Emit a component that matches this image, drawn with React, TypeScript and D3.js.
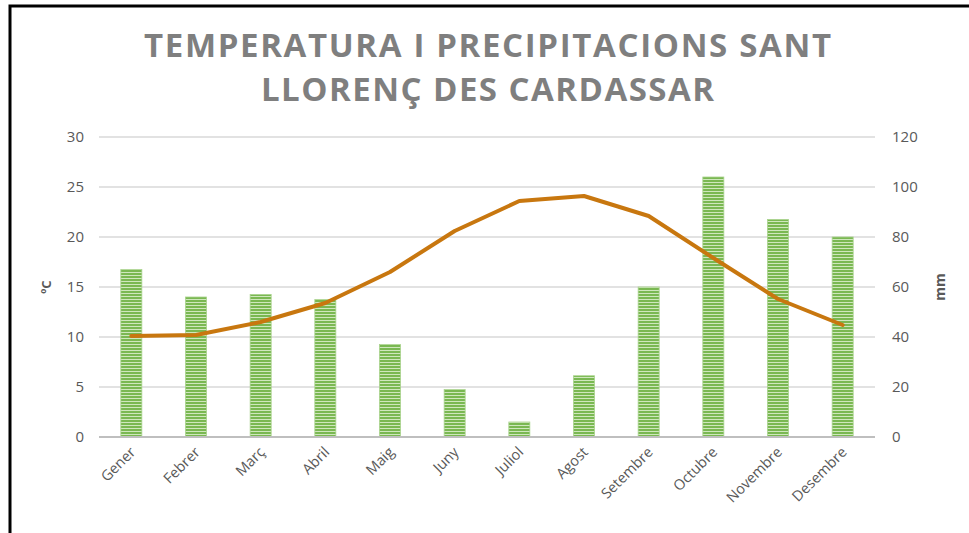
import React from "react";
import * as d3 from "d3";

const months = ["Gener","Febrer","Març","Abril","Maig","Juny","Juliol","Agost","Setembre","Octubre","Novembre","Desembre"];
const precipitation = [67, 56, 57, 55, 37, 19, 6, 24.5, 60, 104, 87, 80];
const temperature = [10.1, 10.2, 11.5, 13.4, 16.5, 20.6, 23.6, 24.1, 22.1, 17.9, 13.8, 11.2];
const leftTicks = [0, 5, 10, 15, 20, 25, 30];
const rightTicks = [0, 20, 40, 60, 80, 100, 120];
const titleLines = ["TEMPERATURA I PRECIPITACIONS SANT", "LLORENÇ DES CARDASSAR"];

const W = 969, H = 533;
const plot = { left: 99, right: 875, top: 137, bottom: 437 };

export default function App() {
  const x = d3.scaleBand<string>().domain(months).range([plot.left, plot.right]).paddingInner(0.675).paddingOuter(0.3375);
  const yL = d3.scaleLinear().domain([0, 30]).range([plot.bottom, plot.top]);
  const yR = d3.scaleLinear().domain([0, 120]).range([plot.bottom, plot.top]);
  const cx = (m: string) => (x(m) as number) + x.bandwidth() / 2;
  const line = d3.line<number>().x((_, i) => cx(months[i])).y((d) => yL(d));
  const font = "'Open Sans', 'DejaVu Sans', sans-serif";
  const titleWidths = [687, 453];
  return (
    <div style={{ position: "absolute", left: 0, top: 0 }}>
      <svg width={W} height={H} style={{ display: "block", background: "#fff" }}>
        <defs>
          <pattern id="stripes" width="6" height="3" patternUnits="userSpaceOnUse">
            <rect width="6" height="3" fill="#cfe7bd" />
            <rect width="6" height="2" fill="#7ab852" />
          </pattern>
        </defs>
        <rect x={10} y={6} width={990} height={560} fill="none" stroke="#000" strokeWidth={3} />
        {titleLines.map((t, i) => (
          <text key={t} x={W / 2 + 3} y={57 + i * 44} textAnchor="middle" fontFamily={font} fontWeight={700}
            fontSize={33} fill="#7f7f7f" textLength={titleWidths[i]} lengthAdjust="spacing">{t}</text>
        ))}
        {leftTicks.slice(1).map((t) => (
          <line key={t} x1={plot.left} x2={plot.right} y1={yL(t)} y2={yL(t)} stroke="#d9d9d9" strokeWidth={1.5} />
        ))}
        {months.map((m, i) => (
          <rect key={m} x={x(m)} y={yR(precipitation[i])} width={x.bandwidth()} height={plot.bottom - yR(precipitation[i])}
            fill="url(#stripes)" stroke="#a8d38c" strokeWidth={0.8} />
        ))}
        <line x1={plot.left} x2={plot.right} y1={plot.bottom} y2={plot.bottom} stroke="#bfbfbf" strokeWidth={2} />
        <path d={line(temperature) || ""} fill="none" stroke="#c8770f" strokeWidth={4} strokeLinejoin="round" strokeLinecap="round" />
        {leftTicks.map((t) => (
          <text key={t} x={84} y={yL(t) + 5} textAnchor="end" fontFamily={font} fontSize={15} fill="#595959">{t}</text>
        ))}
        {rightTicks.map((t) => (
          <text key={t} x={892} y={yR(t) + 5} textAnchor="start" fontFamily={font} fontSize={15} fill="#595959">{t}</text>
        ))}
        <text transform={`translate(51,${(plot.top + plot.bottom) / 2}) rotate(-90)`} textAnchor="middle" fontFamily={font}
          fontWeight={700} fontSize={13} fill="#595959">ºC</text>
        <text transform={`translate(945,${(plot.top + plot.bottom) / 2}) rotate(-90)`} textAnchor="middle" fontFamily={font}
          fontWeight={700} fontSize={14} fill="#595959">mm</text>
        {months.map((m) => (
          <text key={m} transform={`translate(${cx(m) + 5},${plot.bottom + 16}) rotate(-45)`} textAnchor="end"
            fontFamily={font} fontSize={14.5} fill="#595959">{m}</text>
        ))}
      </svg>
    </div>
  );
}
